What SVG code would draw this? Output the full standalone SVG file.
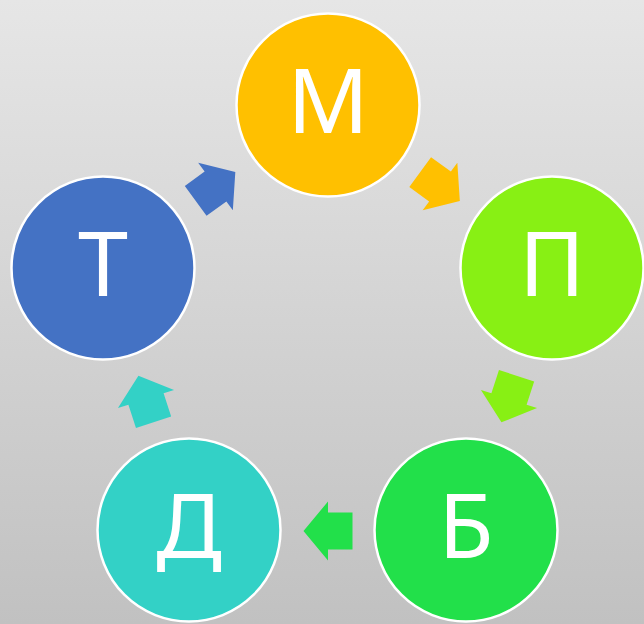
<svg xmlns="http://www.w3.org/2000/svg" width="644" height="624" viewBox="0 0 644 624">
  <defs>
    <linearGradient id="bg" x1="0" y1="0" x2="0" y2="1">
      <stop offset="0" stop-color="#e6e6e6"/>
      <stop offset="1" stop-color="#c1c1c1"/>
    </linearGradient>
    <path id="arr" d="M -24.5 -18.5 L 0 -18.5 L 0 -29.5 L 24.5 0 L 0 29.5 L 0 18.5 L -24.5 18.5 Z"/>
    <style>
      .node circle { stroke: #ffffff; stroke-width: 2.5; }
      .node text { font-family: "Noto Sans", "Open Sans", sans-serif; font-size: 90px; fill: #ffffff; text-anchor: middle; }
    </style>
  </defs>
  <rect x="0" y="0" width="644" height="624" fill="url(#bg)"/>
  <g id="connectors">
    <use href="#arr" fill="#ffc000" transform="translate(440 186.5) rotate(36)"/>
    <use href="#arr" fill="#88f014" transform="translate(509 399) rotate(108)"/>
    <use href="#arr" fill="#22e04a" transform="translate(328 531) rotate(180)"/>
    <use href="#arr" fill="#33d1c6" transform="translate(146 399) rotate(252)"/>
    <use href="#arr" fill="#4472c4" transform="translate(215.5 186.5) rotate(-36)"/>
  </g>
  <g id="node-M" class="node">
    <circle cx="328" cy="105" r="91.5" fill="#ffc000"/>
    <text x="328" y="133">М</text>
  </g>
  <g id="node-P" class="node">
    <circle cx="552" cy="268" r="91.5" fill="#88f014"/>
    <text x="552" y="296">П</text>
  </g>
  <g id="node-B" class="node">
    <circle cx="466" cy="530" r="91.5" fill="#22e04a"/>
    <text x="466" y="558">Б</text>
  </g>
  <g id="node-D" class="node">
    <circle cx="189" cy="530" r="91.5" fill="#33d1c6"/>
    <text x="189" y="558">Д</text>
  </g>
  <g id="node-T" class="node">
    <circle cx="103" cy="268" r="91.5" fill="#4472c4"/>
    <text x="103" y="296">Т</text>
  </g>
</svg>
